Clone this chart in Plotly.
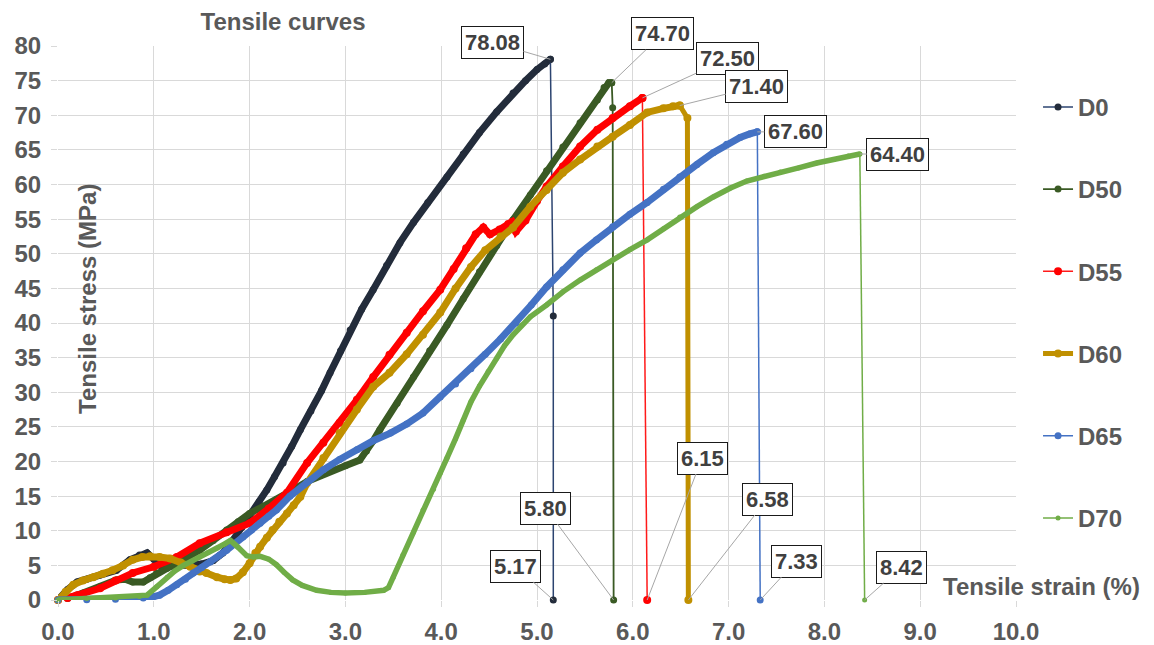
import plotly.graph_objects as go

FONT = "Liberation Sans, Arial, sans-serif"

names = ["D0", "D50", "D55", "D60", "D65", "D70"]
peak_stress = [78.08, 74.70, 72.50, 71.40, 67.60, 64.40]
break_strain = [5.17, 5.80, 6.15, 6.58, 7.33, 8.42]

# ---- loading curves (strain %, stress MPa) ----
d0_strain = [0, 0.1, 0.2, 0.3, 0.44, 0.61, 0.75, 0.85, 0.93, 1.0, 1.07, 1.2, 1.35, 1.5, 1.62, 1.72,
             1.83, 1.92, 2.0, 2.1, 2.18, 2.26, 2.35, 2.44, 2.53, 2.64, 2.75, 2.84, 2.95, 3.05, 3.17,
             3.29, 3.43, 3.57, 3.71, 3.86, 4.06, 4.23, 4.40, 4.58, 4.75, 4.88, 5.0, 5.08, 5.14]
d0_stress = [0, 1.5, 2.6, 3.0, 3.6, 4.3, 5.8, 6.5, 6.8, 5.9, 5.0, 4.9, 5.0, 5.2, 5.7, 6.8,
             8.7, 10.5, 12.3, 14.2, 15.9, 17.8, 19.8, 22.2, 24.6, 27.3, 30.2, 32.8, 36.0, 39.0, 42.0,
             44.8, 48.3, 51.6, 54.5, 57.4, 61.1, 64.4, 67.5, 70.5, 73.2, 75.0, 76.6, 77.4, 78.08]

d50_strain = [0, 0.1, 0.26, 0.44, 0.61, 0.7, 0.78, 0.89, 0.96, 1.03, 1.14, 1.24, 1.36, 1.48, 1.62,
              1.76, 1.88, 2.0, 2.14, 2.28, 2.44, 2.6, 2.74, 2.87, 3.0, 3.15, 3.22, 3.29, 3.36, 3.54,
              3.71, 3.88, 4.06, 4.23, 4.40, 4.58, 4.75, 4.93, 5.10, 5.27, 5.45, 5.63, 5.70, 5.75, 5.78]
d50_stress = [0, 0.2, 1.0, 1.9, 2.9, 3.0, 2.6, 2.6, 3.2, 3.9, 4.6, 5.3, 6.2, 7.2, 8.6,
              10.1, 11.3, 12.5, 13.5, 14.5, 15.8, 17.1, 18.0, 18.8, 19.4, 20.2, 21.5, 23.0, 24.6, 28.4,
              32.2, 36.0, 39.7, 43.5, 47.4, 51.2, 54.9, 58.5, 62.0, 65.4, 68.9, 72.2, 74.0, 74.7, 74.7]

d55_strain = [0, 0.1, 0.2, 0.44, 0.6, 0.78, 1.0, 1.24, 1.48, 1.76, 2.0, 2.2, 2.39, 2.6, 2.77, 2.94,
              3.12, 3.29, 3.46, 3.64, 3.81, 3.99, 4.13, 4.26, 4.36, 4.44, 4.51, 4.61, 4.70, 4.74, 4.78,
              4.88, 5.0, 5.1, 5.27, 5.45, 5.63, 5.79, 5.97, 6.1]
d55_stress = [0, 0.3, 0.7, 1.7, 2.8, 3.9, 4.8, 6.2, 8.2, 9.8, 11.1, 13.2, 15.5, 19.8, 22.7, 25.6,
              28.9, 32.2, 35.4, 38.6, 41.7, 44.8, 47.8, 50.8, 52.8, 53.8, 52.8, 53.5, 54.3, 54.6, 53.2,
              54.8, 57.6, 59.7, 62.6, 65.5, 67.9, 69.6, 71.3, 72.5]

d60_strain = [0, 0.08, 0.16, 0.26, 0.37, 0.47, 0.57, 0.68, 0.78, 0.88, 0.96, 1.06, 1.17, 1.28, 1.38,
              1.48, 1.55, 1.66, 1.74, 1.80, 1.86, 1.93, 2.0, 2.06, 2.11, 2.18, 2.24, 2.31, 2.39, 2.46,
              2.53, 2.6, 2.77, 2.94, 3.12, 3.29, 3.46, 3.64, 3.81, 3.99, 4.15, 4.31, 4.46, 4.62, 4.75,
              4.93, 5.1, 5.27, 5.45, 5.63, 5.79, 5.97, 6.15, 6.32, 6.42, 6.49]
d60_stress = [0, 1.2, 2.2, 2.8, 3.3, 3.8, 4.3, 5.0, 5.8, 6.2, 6.3, 6.2, 6.0, 5.4, 4.8,
              4.1, 3.9, 3.3, 3.0, 2.9, 3.1, 4.0, 5.3, 6.8, 7.7, 9.0, 10.1, 11.3, 12.5, 13.7,
              14.9, 16.9, 20.5, 24.1, 27.5, 30.8, 32.8, 35.5, 38.3, 41.5, 45.0, 48.1, 50.5, 52.5, 53.8,
              56.8, 59.2, 61.7, 63.6, 65.5, 66.9, 68.6, 70.4, 71.0, 71.3, 71.4]

d65_strain = [0, 0.3, 0.6, 0.89, 1.0, 1.06, 1.15, 1.24, 1.33, 1.41, 1.5, 1.59, 1.68, 1.76, 1.85,
              1.93, 2.02, 2.11, 2.2, 2.28, 2.42, 2.6, 2.77, 2.94, 3.12, 3.29, 3.47, 3.64, 3.81, 3.99,
              4.15, 4.31, 4.46, 4.62, 4.78, 4.94, 5.1, 5.27, 5.45, 5.62, 5.79, 5.97, 6.15, 6.32, 6.49,
              6.67, 6.84, 6.98, 7.12, 7.22, 7.30]
d65_stress = [0, 0.05, 0.1, 0.3, 0.5, 0.7, 1.4, 2.2, 3.0, 3.9, 4.7, 5.5, 6.4, 7.2, 8.2,
              9.1, 10.1, 11.1, 12.1, 13.0, 15.0, 17.0, 18.8, 20.3, 21.7, 23.0, 24.1, 25.4, 27.0, 29.3,
              31.2, 33.4, 35.5, 37.7, 40.0, 42.6, 45.2, 47.7, 50.1, 52.0, 53.9, 55.7, 57.4, 59.3, 61.1,
              62.9, 64.6, 65.8, 66.8, 67.3, 67.6]

d70_strain = [0, 0.3, 0.6, 0.85, 0.93, 1.03, 1.14, 1.22, 1.31, 1.4, 1.48, 1.57, 1.66, 1.74, 1.8,
              1.88, 1.97, 2.04, 2.11, 2.2, 2.28, 2.36, 2.45, 2.55, 2.7, 2.85, 3.0, 3.2, 3.4, 3.45,
              3.5, 3.6, 3.71, 3.81, 3.92, 3.99, 4.06, 4.15, 4.23, 4.31, 4.40, 4.49, 4.58, 4.66, 4.75,
              4.84, 4.93, 5.1, 5.27, 5.45, 5.62, 5.79, 5.97, 6.15, 6.32, 6.49, 6.67, 6.84, 7.02, 7.19,
              7.37, 7.54, 7.73, 7.92, 8.1, 8.25, 8.37]
d70_stress = [0, 0.2, 0.3, 0.5, 0.7, 1.9, 3.3, 4.2, 5.0, 5.6, 6.2, 6.9, 7.5, 8.1, 8.6,
              7.6, 6.4, 6.2, 6.3, 5.9, 5.1, 4.0, 2.9, 2.1, 1.4, 1.1, 1.0, 1.1, 1.4, 1.8,
              3.3, 6.5, 9.8, 13.0, 16.0, 18.3, 20.5, 23.3, 26.0, 28.6, 30.9, 33.0, 34.9, 36.7, 38.3,
              39.7, 40.9, 42.6, 44.5, 46.2, 47.7, 49.1, 50.6, 52.0, 53.6, 55.3, 56.8, 58.2, 59.5, 60.5,
              61.2, 61.8, 62.4, 63.1, 63.6, 64.1, 64.4]

# post-peak points before the fracture point (strain, stress)
tail_strain = [[5.17], [5.79], [], [6.57], [], []]
tail_stress = [[41.0], [71.1], [], [69.6], [], []]

curves_x = [d0_strain, d50_strain, d55_strain, d60_strain, d65_strain, d70_strain]
curves_y = [d0_stress, d50_stress, d55_stress, d60_stress, d65_stress, d70_stress]

# ---- styles ----
marker_col = ["#232C3B", "#3A5A24", "#FF0000", "#C09000", "#4472C4", "#70AD47"]
line_col = ["#2C4470", "#3A5A24", "#FF1A1A", "#C09000", "#4472C4", "#70AD47"]
curve_w = [7, 7, 7, 7, 7, 5.5]
marker_sz = [7, 7, 8, 8, 7, 5]
drop_w = [1.5, 1.8, 1.5, 5, 1.5, 1.5]

# label offsets (pixels) for peak-stress and fracture-strain labels
peak_off = [(-58, -17), (51, -49), (85, -39), (77, -19), (38, 0), (38, 0)]
brk_off = [(-38, -34), (-68, -92), (55, -142), (79, -101), (36, -39), (37, -33)]

fig = go.Figure()
for i, n in enumerate(names):
    cx, cy = curves_x[i], curves_y[i]
    fig.add_trace(go.Scatter(
        x=cx, y=cy, mode="lines+markers", legendgroup=n, showlegend=False,
        line=dict(color=marker_col[i], width=curve_w[i]),
        marker=dict(color=marker_col[i], size=marker_sz[i]),
        cliponaxis=False, hoverinfo="skip"))
    dx = [cx[-1]] + tail_strain[i] + [break_strain[i]]
    dy = [cy[-1]] + tail_stress[i] + [0]
    fig.add_trace(go.Scatter(
        x=dx, y=dy, mode="lines+markers", name=n, legendgroup=n, showlegend=True,
        line=dict(color=line_col[i], width=drop_w[i]),
        marker=dict(color=marker_col[i], size=marker_sz[i]),
        cliponaxis=False))

ann = []
box = dict(showarrow=True, arrowhead=0, arrowwidth=1, arrowcolor="#A6A6A6",
           bordercolor="#1A1A1A", borderwidth=1, borderpad=3, bgcolor="white",
           font=dict(family=FONT, size=22, color="#404040", weight="bold"),
           xref="x", yref="y", axref="pixel", ayref="pixel", standoff=0)
for i in range(len(names)):
    ann.append(dict(x=curves_x[i][-1], y=curves_y[i][-1], text=f"{peak_stress[i]:.2f}",
                    ax=peak_off[i][0], ay=peak_off[i][1], **box))
    ann.append(dict(x=break_strain[i], y=0, text=f"{break_strain[i]:.2f}",
                    ax=brk_off[i][0], ay=brk_off[i][1], **box))

ann.append(dict(text="Tensile strain (%)", xref="paper", yref="paper", x=1.027, y=0.0235,
                showarrow=False, xanchor="center", yanchor="middle",
                font=dict(family=FONT, size=24, color="#595959", weight="bold")))
ann.append(dict(text="Tensile stress (MPa)", xref="paper", yref="paper", x=0.030, y=0.543,
                showarrow=False, textangle=-90, xanchor="center", yanchor="middle",
                font=dict(family=FONT, size=24, color="#595959", weight="bold")))

# the page body adds an 8px offset, so the figure is 8px smaller in each direction
W, H = 1146, 637
tickfont = dict(family=FONT, size=24, color="#595959", weight="bold")
fig.update_layout(
    width=W, height=H,
    margin=dict(l=50, r=138, t=38, b=45, autoexpand=False),
    plot_bgcolor="white", paper_bgcolor="white",
    title=dict(text="Tensile curves", x=275 / W, xref="container", xanchor="center",
               y=1 - 14 / H, yref="container", yanchor="middle",
               font=dict(family=FONT, size=24, color="#595959", weight="bold")),
    xaxis=dict(range=[0, 10], dtick=1, tick0=0, tickformat=".1f", showgrid=True,
               gridcolor="#D9D9D9", gridwidth=1, zeroline=False, showline=False,
               ticks="outside", ticklen=6, tickcolor="#D9D9D9", tickfont=tickfont,
               ticklabelstandoff=4, automargin=False),
    yaxis=dict(range=[0, 80], dtick=5, tick0=0, showgrid=True,
               gridcolor="#D9D9D9", gridwidth=1, zeroline=False, showline=False,
               ticks="outside", ticklen=6, tickcolor="#D9D9D9", tickfont=tickfont,
               ticklabelstandoff=5, automargin=False),
    legend=dict(x=1.023, xanchor="left", y=0.93, yanchor="top", tracegroupgap=48,
                font=dict(family=FONT, size=24, color="#595959", weight="bold"),
                bgcolor="rgba(0,0,0,0)", itemwidth=30),
    annotations=ann,
    showlegend=True,
)

fig.write_html("out.html")
